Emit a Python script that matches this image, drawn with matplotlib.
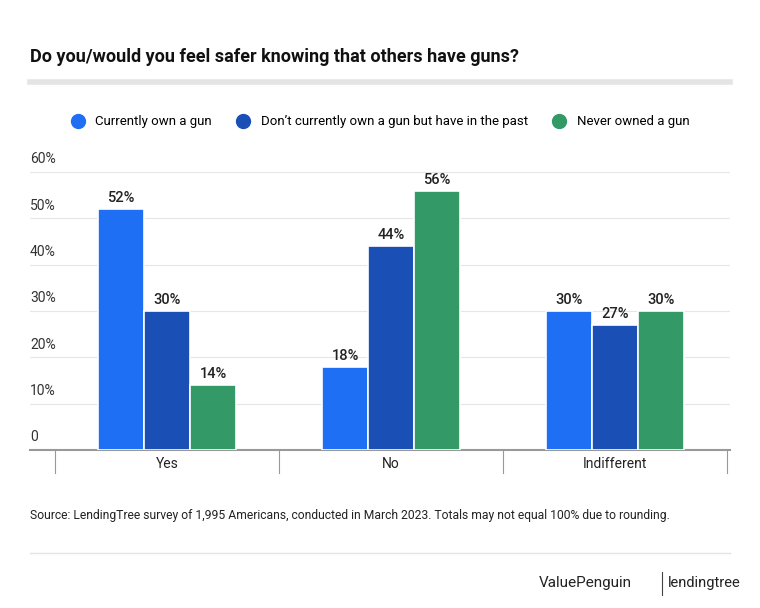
import matplotlib.pyplot as plt
from matplotlib.lines import Line2D

plt.rcParams['font.family'] = ['Roboto', 'DejaVu Sans']

categories = ['Yes', 'No', 'Indifferent']
series = ['Currently own a gun', 'Don\u2019t currently own a gun but have in the past', 'Never owned a gun']
values = [
    [52, 18, 30],
    [30, 44, 27],
    [14, 56, 30],
]
colors = ['#1f6ff5', '#1a4fb5', '#339966']
yticks = [0, 10, 20, 30, 40, 50, 60]
ytick_labels = ['0', '10%', '20%', '30%', '40%', '50%', '60%']

W, H = 760, 608
fig = plt.figure(figsize=(7.6, 6.08), dpi=100)
ax = fig.add_axes([30 / W, 1 - 450 / H, 700 / W, 278 / H])

width = 0.205
for i, (name, vals, c) in enumerate(zip(series, values, colors)):
    xs = [j + (i - 1) * width for j in range(len(categories))]
    ax.bar(xs, vals, width=width, color=c, edgecolor='white', linewidth=1.2, zorder=3)
    for x, v in zip(xs, vals):
        ax.text(x, v + 0.8, f'{v}%', ha='center', va='bottom', fontsize=10.5,
                fontweight='medium', color='#222222', zorder=4)

ax.set_xlim(-0.612, 2.513)
ax.set_ylim(0, 60)
ax.set_yticks(yticks)
ax.set_yticklabels([])
for t, lab in zip(yticks, ytick_labels):
    ax.text(-0.612, t + 1.2, lab, ha='left', va='bottom', fontsize=10, color='#333333')
    if t > 0:
        ax.axhline(t, color='#e6e6e6', linewidth=0.8, zorder=0)
ax.set_xticks([])
for s in ['top', 'right', 'left']:
    ax.spines[s].set_visible(False)
ax.spines['bottom'].set_color('#999999')
ax.spines['bottom'].set_linewidth(1.5)
ax.tick_params(left=False, bottom=False)

for j, cat in enumerate(categories):
    ax.text(j, -1.6, cat, ha='center', va='top', fontsize=10, color='#222222')
for b in [-0.5, 0.5, 1.5, 2.5]:
    ax.plot([b, b], [0, -5.0], color='#999999', linewidth=0.8, clip_on=False)

fig.text(30 / W, 1 - 57 / H, 'Do you/would you feel safer knowing that others have guns?',
         fontsize=13, fontweight='bold', va='center', ha='left', color='#111111')
fig.add_artist(Line2D([30 / W, 730 / W], [1 - 82 / H] * 2, color='#e4e4e4', linewidth=4))

handles = [Line2D([], [], marker='o', linestyle='', markersize=10, color=c) for c in colors]
fig.legend(handles, series, loc='center', bbox_to_anchor=(377 / W, 1 - 122 / H), ncol=3,
           frameon=False, fontsize=9.5, handletextpad=0.3, columnspacing=1.4)

fig.text(30 / W, 1 - 515 / H,
         'Source: LendingTree survey of 1,995 Americans, conducted in March 2023. Totals may not equal 100% due to rounding.',
         fontsize=8.7, va='center', ha='left', color='#222222')
fig.add_artist(Line2D([30 / W, 730 / W], [1 - 553 / H] * 2, color='#e4e4e4', linewidth=1))
fig.text(632 / W, 1 - 583 / H, 'ValuePenguin', fontsize=11, ha='right', va='center', color='#222222')
fig.text(668 / W, 1 - 583 / H, 'lendingtree', fontsize=10.5, ha='left', va='center', color='#222222')
fig.add_artist(Line2D([662 / W, 662 / W], [1 - 572 / H, 1 - 595 / H], color='#444444', linewidth=0.8))

fig.savefig('out.png', dpi=100, facecolor='white')
